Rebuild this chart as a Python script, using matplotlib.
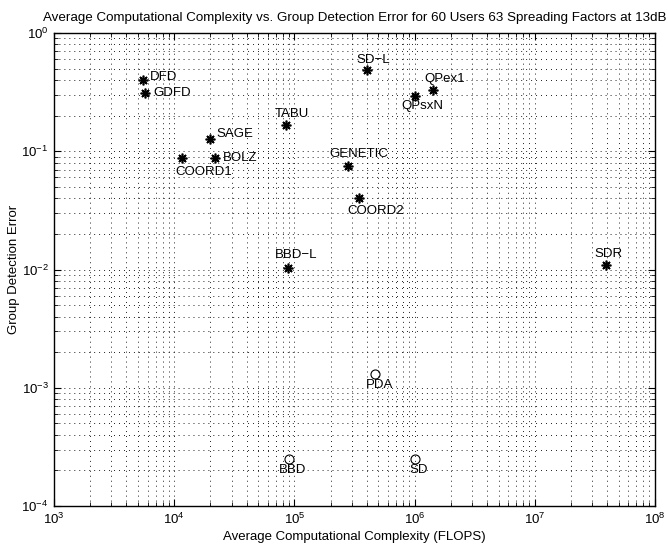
import numpy as np
import matplotlib
matplotlib.use("Agg")
import matplotlib.pyplot as plt

# detectors and their (complexity, error) pairs
names_star = ["DFD", "GDFD", "SAGE", "COORD1", "BOLZ", "TABU", "SD-L",
              "QPex1", "QPsxN", "GENETIC", "COORD2", "BBD-L", "SDR"]
flops_star = [5.5e3, 5.7e3, 2.0e4, 1.16e4, 2.2e4, 8.5e4, 4.0e5,
              1.42e6, 1.0e6, 2.8e5, 3.45e5, 8.8e4, 3.9e7]
err_star = [0.40, 0.311, 0.127, 0.0877, 0.0877, 0.167, 0.486,
            0.330, 0.293, 0.075, 0.040, 0.0103, 0.011]

names_circ = ["PDA", "BBD", "SD"]
flops_circ = [4.7e5, 9.0e4, 1.0e6]
err_circ = [1.31e-3, 2.5e-4, 2.5e-4]

# label offsets in pixels (left edge of text, vertical centre)
label_off = {
    "DFD": (7, 3), "GDFD": (8, 0), "SAGE": (6, 5), "COORD1": (-7, -14),
    "BOLZ": (7, 0), "TABU": (-11, 11), "SD-L": (-10, 10),
    "QPex1": (-9, 11), "QPsxN": (-13, -10), "GENETIC": (-19, 12),
    "COORD2": (-12, -13), "BBD-L": (-13, 13), "SDR": (-11, 11),
    "PDA": (-9, -11), "BBD": (-10, -11), "SD": (-5, -11),
}

plt.rcParams['font.family'] = ['Liberation Sans', 'DejaVu Sans']
plt.rcParams['mathtext.fontset'] = 'custom'
plt.rcParams['mathtext.rm'] = 'Liberation Sans'
plt.rcParams['mathtext.it'] = 'Liberation Sans'

fig = plt.figure(figsize=(6.68, 5.45), dpi=100)
ax = fig.add_axes([0.081, 0.0716, 0.8995, 0.8678])

ax.plot(flops_star, err_star, linestyle="none", marker=(8, 2, 0),
        color="k", markersize=7, markeredgewidth=1.2)
ax.plot(flops_circ, err_circ, linestyle="none", marker="o",
        markerfacecolor="none", markeredgecolor="k", markersize=6.5,
        markeredgewidth=0.8)

for n, x, y in zip(names_star + names_circ, flops_star + flops_circ,
                   err_star + err_circ):
    dx, dy = label_off[n]
    ax.annotate(n.replace("-", "\u2212"), (x, y), xytext=(dx, dy),
                textcoords="offset pixels", ha="left", va="center",
                fontsize=9.5)

ax.set_xscale("log")
ax.set_yscale("log")
ax.set_xlim(1e3, 1e8)
ax.set_ylim(1e-4, 1e0)

dots = (0, (1, 4.5))
ax.grid(True, which="major", linestyle=dots, color="k", linewidth=0.65)
ax.grid(True, which="minor", linestyle=dots, color="k", linewidth=0.65)
ax.tick_params(which="both", direction="in", top=True, right=True,
               labelsize=9.5, pad=4)
ax.tick_params(which="major", length=5)
ax.tick_params(which="minor", length=3)
for s in ax.spines.values():
    s.set_linewidth(1.0)

ax.set_title("Average Computational Complexity vs. Group Detection Error "
             "for 60 Users 63 Spreading Factors at 13dB", fontsize=9.6, pad=9)
ax.set_xlabel("Average Computational Complexity (FLOPS)", fontsize=9.5,
              labelpad=3)
ax.set_ylabel("Group Detection Error", fontsize=9.5, labelpad=1)

fig.savefig("out.png", dpi=100)
